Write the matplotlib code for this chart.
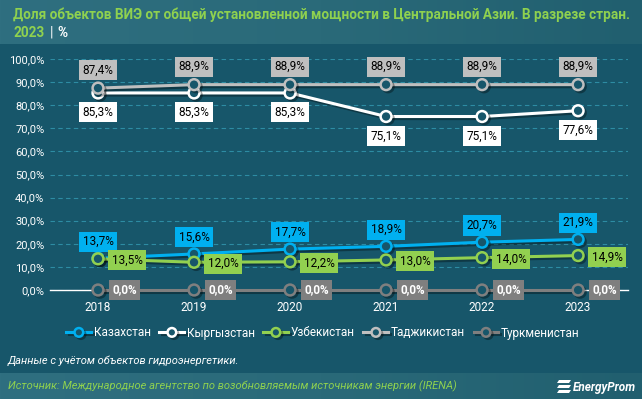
import matplotlib.pyplot as plt
import matplotlib.patheffects as pe
from matplotlib.patches import Polygon
from matplotlib.colors import LinearSegmentedColormap
import numpy as np

plt.rcParams['font.family'] = ['Liberation Sans Narrow', 'Roboto', 'DejaVu Sans']

years = [2018, 2019, 2020, 2021, 2022, 2023]
series_names = ['Казахстан', 'Кыргызстан', 'Узбекистан', 'Таджикистан', 'Туркменистан']
kaz = [13.7, 15.6, 17.7, 18.9, 20.7, 21.9]
kyr = [85.3, 85.3, 85.3, 75.1, 75.1, 77.6]
uzb = [13.5, 12.0, 12.2, 13.0, 14.0, 14.9]
taj = [87.4, 88.9, 88.9, 88.9, 88.9, 88.9]
tkm = [0.0, 0.0, 0.0, 0.0, 0.0, 0.0]

BG = '#17566a'
colors = ['#00b0f0', '#ffffff', '#92d050', '#bfbfbf', '#7f7f7f']
# label placement: (dx, dy) in points, text color, bold
label_style = [
    ((0, 12), 'black', False),
    ((0, -14), 'black', False),
    ((21, -1), 'black', False),
    ((0, 13), 'black', False),
    ((19, 0), 'white', True),
]

fig = plt.figure(figsize=(6.42, 3.99), dpi=100)
fig.patch.set_facecolor(BG)

# header and footer bands
grad = np.linspace(0, 1, 256).reshape(1, -1)
cmap = LinearSegmentedColormap.from_list('band', ['#2f6f80', '#2a6a79', '#215f6f'])
hax = fig.add_axes([0, 1 - 44 / 399, 1, 44 / 399])
hax.imshow(grad, aspect='auto', cmap=cmap, extent=[0, 1, 0, 1])
hax.axis('off')
fax = fig.add_axes([0, 0, 1, 26 / 399])
fax.imshow(grad, aspect='auto', cmap=cmap, extent=[0, 1, 0, 1])
fax.axis('off')

ax = fig.add_axes([50 / 642, 1 - 290 / 399, 578 / 642, 231 / 399])
ax.set_facecolor('none')
ax.set_xlim(2017.5, 2023.52)
ax.set_ylim(0, 100)
ax.set_yticks(np.arange(0, 101, 10))
ax.set_yticklabels([f'{v},0%' for v in range(0, 101, 10)])
ax.set_xticks(years)
ax.tick_params(colors='white', labelsize=8, length=0, pad=4)
ax.tick_params(axis='x', pad=8, labelsize=8.5)
for s in ['top', 'right', 'left']:
    ax.spines[s].set_visible(False)
ax.spines['bottom'].set_color('white')
ax.spines['bottom'].set_linewidth(1)
ax.grid(axis='y', color='#2d8ca3', linestyle=(0, (4, 3)), linewidth=0.8)
ax.set_axisbelow(True)

data = [kaz, kyr, uzb, taj, tkm]
shadow = [pe.SimpleLineShadow(offset=(1.5, -1.5), shadow_color='black', alpha=0.35), pe.Normal()]
handles = []
for i, (vals, name, c) in enumerate(zip(data, series_names, colors)):
    ln, = ax.plot(years, vals, color=c, lw=2.2, marker='o', ms=7.8, mfc=BG, mec=c, mew=1.8,
                  clip_on=False, zorder=3 + i, label=name, path_effects=shadow)
    handles.append(ln)
    (dx, dy), tc, bold = label_style[i]
    for x, v in zip(years, vals):
        ax.annotate(f'{v:.1f}%'.replace('.', ','), (x, v), xytext=(dx, dy), textcoords='offset points',
                    ha='center', va='center', fontsize=8.5, color=tc,
                    fontweight='bold' if bold else 'normal', zorder=20,
                    bbox=dict(boxstyle='square,pad=0.3', fc=c, ec='none'))

leg = fig.legend(handles=handles, loc='center', bbox_to_anchor=(0.503, 1 - 333 / 399), ncol=5,
                 frameon=False, fontsize=8.5, labelcolor='white', handlelength=2.1,
                 handletextpad=0.2, columnspacing=0.75, markerscale=0.8)

# title
fig.text(13 / 642, 1 - 15 / 399, 'Доля объектов ВИЭ от общей установленной мощности в Центральной Азии. В разрезе стран.',
         color='#8fd14f', fontsize=9.8, fontweight='bold', va='center', ha='left')
fig.text(13 / 642, 1 - 33 / 399, '2023', color='#8fd14f', fontsize=9.8, fontweight='bold', va='center')
fig.text(50 / 642, 1 - 33 / 399, '|', color='white', fontsize=10, va='center')
fig.text(57 / 642, 1 - 33 / 399, '%', color='white', fontsize=9.8, fontweight='bold', va='center')

fig.text(8 / 642, 1 - 361 / 399, 'Данные с учётом объектов гидроэнергетики.', color='white',
         fontsize=8, style='italic', va='center')
fig.text(8 / 642, 1 - 386 / 399, 'Источник: Международное агентство по возобновляемым источникам энергии (IRENA)',
         color='#8fd14f', fontsize=8, style='italic', va='center')

# logo
for k in range(3):
    y0 = 1 - (380 + k * 5) / 399
    fig.patches.append(Polygon([[559 / 642, y0], [571 / 642, y0], [569 / 642, y0 - 3 / 399], [557 / 642, y0 - 3 / 399]],
                               closed=True, fc='white', ec='none', transform=fig.transFigure))
fig.text(573 / 642, 1 - 387 / 399, 'EnergyProm', color='white', fontsize=8.5, fontweight='bold',
         style='italic', va='center')

fig.savefig('out.png', dpi=100, facecolor=BG)
